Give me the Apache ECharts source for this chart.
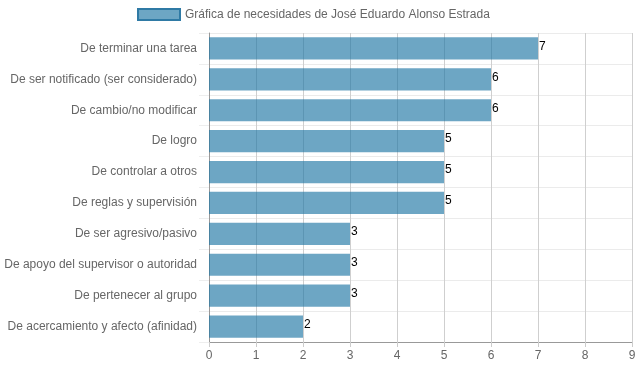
<!DOCTYPE html>
<html>
<head>
<meta charset="utf-8">
<script src="https://cdn.jsdelivr.net/npm/echarts@6/dist/echarts.min.js"></script>
<style>html,body{margin:0;padding:0;background:#fff}#c{width:639px;height:372px}</style>
</head>
<body>
<div id="c"></div>
<script>
const categories = [
  "De terminar una tarea",
  "De ser notificado (ser considerado)",
  "De cambio/no modificar",
  "De logro",
  "De controlar a otros",
  "De reglas y supervisión",
  "De ser agresivo/pasivo",
  "De apoyo del supervisor o autoridad",
  "De pertenecer al grupo",
  "De acercamiento y afecto (afinidad)"
];
const values = [7, 6, 6, 5, 5, 5, 3, 3, 3, 2];
const seriesName = "Gráfica de necesidades de José Eduardo Alonso Estrada";
const xTicks = [0, 1, 2, 3, 4, 5, 6, 7, 8, 9];

const chart = echarts.init(document.getElementById('c'), null, {renderer: 'canvas'});
const font = '"Liberation Sans", Arial, sans-serif';
chart.setOption({
  animation: false,
  textStyle: {fontFamily: font},
  legend: {
    top: 8, left: 137, padding: 0,
    data: [seriesName],
    itemWidth: 42, itemHeight: 11, itemGap: 10,
    icon: 'rect',
    textStyle: {color: '#666', fontSize: 12, fontFamily: font},
    itemStyle: {color: 'rgba(31,119,164,0.65)', borderColor: '#2f7aa5', borderWidth: 2}
  },
  grid: {left: 209, right: 7, top: 33, bottom: 30, containLabel: false},
  xAxis: {
    type: 'value', min: xTicks[0], max: xTicks[xTicks.length - 1], interval: 1,
    axisLine: {show: true, lineStyle: {color: '#999'}},
    axisTick: {show: true, length: 5, lineStyle: {color: '#ccc'}},
    axisLabel: {color: '#666', fontSize: 12, margin: 8, fontFamily: font},
    splitLine: {show: true, lineStyle: {color: '#cfcfcf'}}
  },
  yAxis: {
    type: 'category', inverse: true, data: categories,
    axisLine: {show: true, lineStyle: {color: '#999'}},
    axisTick: {show: true, length: 10, lineStyle: {color: '#eee'}},
    axisLabel: {color: '#666', fontSize: 12, margin: 12, fontFamily: font},
    splitLine: {show: true, lineStyle: {color: '#ebebeb'}}
  },
  series: [{
    name: seriesName, type: 'bar', data: values, barWidth: '72%',
    itemStyle: {color: 'rgba(31,119,164,0.65)'},
    label: {show: true, position: 'right', distance: 1, offset: [0, -2], color: '#000', fontSize: 12, fontFamily: font}
  }]
});
</script>
</body>
</html>
